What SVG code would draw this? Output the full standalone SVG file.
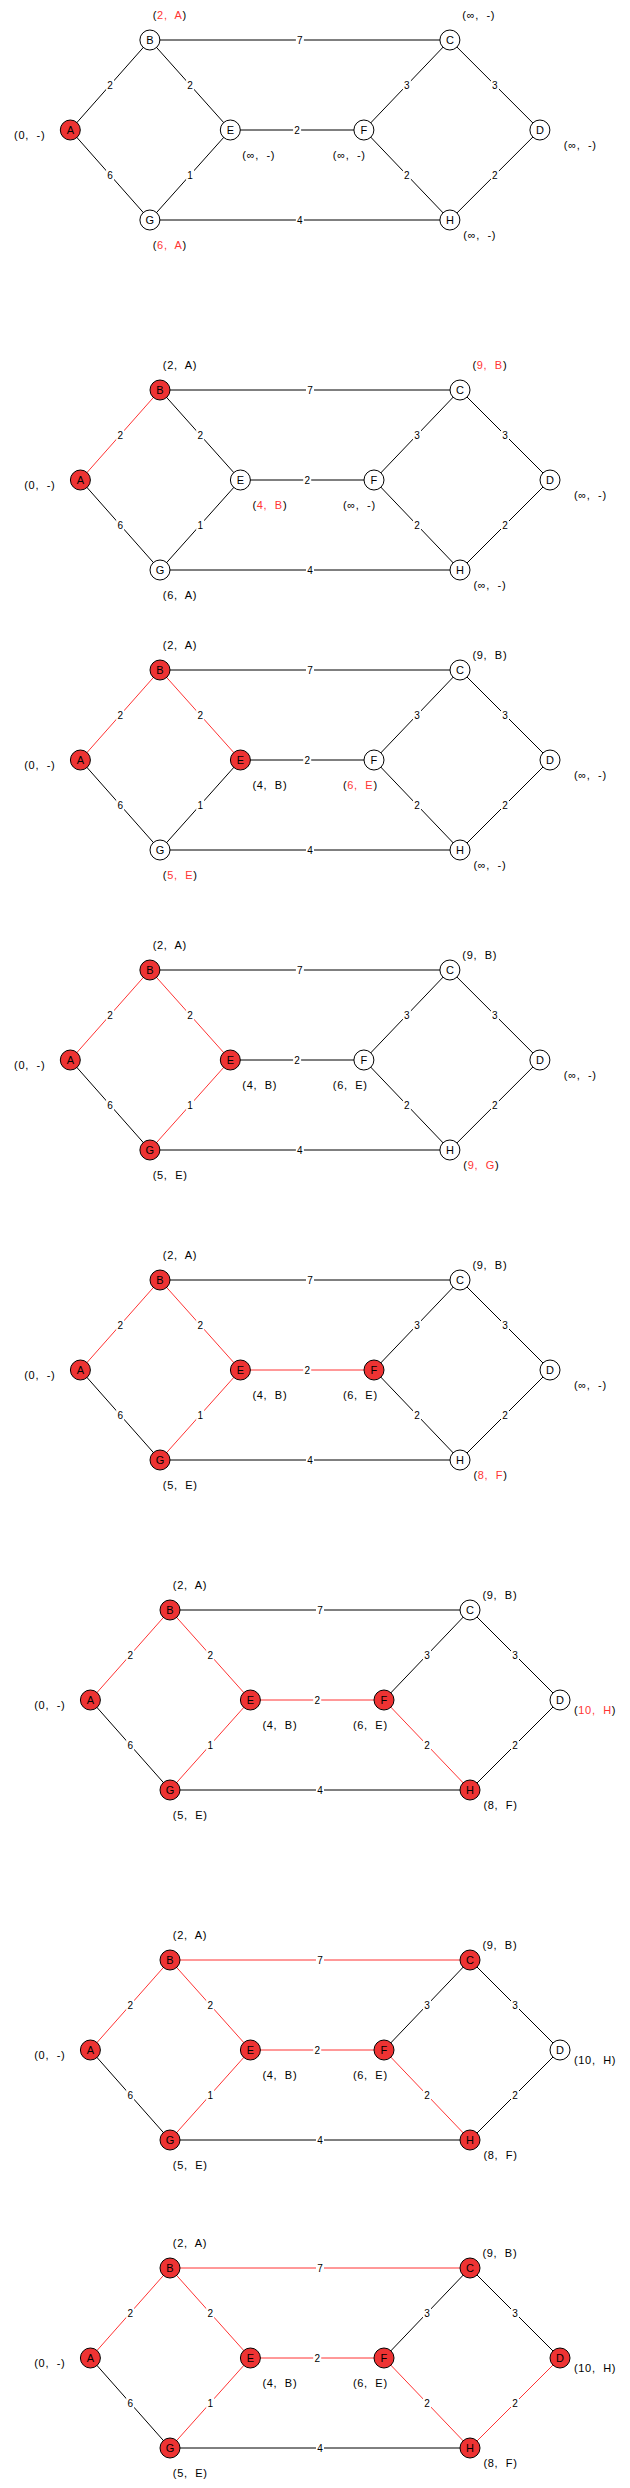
<svg xmlns="http://www.w3.org/2000/svg" width="630" height="2488" viewBox="0 0 630 2488">
<style>
.e{stroke:#000;stroke-width:1;fill:none}
.er{stroke:#ff3333;stroke-width:1;fill:none}
.n{fill:#fff;stroke:#000;stroke-width:1}
.nr{fill:#ee3333;stroke:#000;stroke-width:1}
.t{font-family:"Liberation Sans",Arial,sans-serif;font-size:11px;text-anchor:middle;fill:#000}
.l{font-family:"Liberation Sans",Arial,sans-serif;font-size:11px;letter-spacing:0.7px;white-space:pre;fill:#000}
.r{fill:#ff3333}
.w{font-family:"Liberation Sans",Arial,sans-serif;font-size:10px;text-anchor:middle;fill:#000}
.bg{fill:#fff}
</style>
<rect width="630" height="2488" fill="#fff"/>

<!-- Panel 1 -->
<g id="panel1" transform="translate(70.3,130)">
<g id="p1-edges">
<line class="e" x1="0" y1="0" x2="79.6" y2="-90"/>
<line class="e" x1="0" y1="0" x2="79.6" y2="90"/>
<line class="e" x1="79.6" y1="-90" x2="160" y2="0"/>
<line class="e" x1="79.6" y1="90" x2="160" y2="0"/>
<line class="e" x1="79.6" y1="-90" x2="379.6" y2="-90"/>
<line class="e" x1="79.6" y1="90" x2="379.6" y2="90"/>
<line class="e" x1="160" y1="0" x2="293.6" y2="0"/>
<line class="e" x1="293.6" y1="0" x2="379.6" y2="-90"/>
<line class="e" x1="293.6" y1="0" x2="379.6" y2="90"/>
<line class="e" x1="379.6" y1="-90" x2="469.6" y2="0"/>
<line class="e" x1="379.6" y1="90" x2="469.6" y2="0"/>
<rect class="bg" x="35.8" y="-50" width="8" height="10"/><text class="w" x="39.8" y="-41.5">2</text>
<rect class="bg" x="35.8" y="40" width="8" height="10"/><text class="w" x="39.8" y="48.5">6</text>
<rect class="bg" x="115.8" y="-50" width="8" height="10"/><text class="w" x="119.8" y="-41.5">2</text>
<rect class="bg" x="115.8" y="40" width="8" height="10"/><text class="w" x="119.8" y="48.5">1</text>
<rect class="bg" x="225.6" y="-95" width="8" height="10"/><text class="w" x="229.6" y="-86.5">7</text>
<rect class="bg" x="225.6" y="85" width="8" height="10"/><text class="w" x="229.6" y="93.5">4</text>
<rect class="bg" x="222.8" y="-5" width="8" height="10"/><text class="w" x="226.8" y="3.5">2</text>
<rect class="bg" x="332.6" y="-50" width="8" height="10"/><text class="w" x="336.6" y="-41.5">3</text>
<rect class="bg" x="332.6" y="40" width="8" height="10"/><text class="w" x="336.6" y="48.5">2</text>
<rect class="bg" x="420.6" y="-50" width="8" height="10"/><text class="w" x="424.6" y="-41.5">3</text>
<rect class="bg" x="420.6" y="40" width="8" height="10"/><text class="w" x="424.6" y="48.5">2</text>
</g>
<g id="p1-A"><circle class="nr" cx="0" cy="0" r="10"/><text class="t" x="0" y="4">A</text><text class="l" x="-56.2" y="9">(0,  -)</text></g>
<g id="p1-B"><circle class="n" cx="79.6" cy="-90" r="10"/><text class="t" x="79.6" y="-86">B</text><text class="l" x="82.4" y="-111">(<tspan class="r">2,  A</tspan>)</text></g>
<g id="p1-G"><circle class="n" cx="79.6" cy="90" r="10"/><text class="t" x="79.6" y="94">G</text><text class="l" x="82.4" y="119">(<tspan class="r">6,  A</tspan>)</text></g>
<g id="p1-E"><circle class="n" cx="160" cy="0" r="10"/><text class="t" x="160" y="4">E</text><text class="l" x="172" y="29">(∞,  -)</text></g>
<g id="p1-F"><circle class="n" cx="293.6" cy="0" r="10"/><text class="t" x="293.6" y="4">F</text><text class="l" x="262.5" y="29">(∞,  -)</text></g>
<g id="p1-C"><circle class="n" cx="379.6" cy="-90" r="10"/><text class="t" x="379.6" y="-86">C</text><text class="l" x="392" y="-111">(∞,  -)</text></g>
<g id="p1-H"><circle class="n" cx="379.6" cy="90" r="10"/><text class="t" x="379.6" y="94">H</text><text class="l" x="393" y="109">(∞,  -)</text></g>
<g id="p1-D"><circle class="n" cx="469.6" cy="0" r="10"/><text class="t" x="469.6" y="4">D</text><text class="l" x="493.5" y="19">(∞,  -)</text></g>
</g>

<!-- Panel 2 -->
<g id="panel2" transform="translate(80.4,480)">
<g id="p2-edges">
<line class="er" x1="0" y1="0" x2="79.6" y2="-90"/>
<line class="e" x1="0" y1="0" x2="79.6" y2="90"/>
<line class="e" x1="79.6" y1="-90" x2="160" y2="0"/>
<line class="e" x1="79.6" y1="90" x2="160" y2="0"/>
<line class="e" x1="79.6" y1="-90" x2="379.6" y2="-90"/>
<line class="e" x1="79.6" y1="90" x2="379.6" y2="90"/>
<line class="e" x1="160" y1="0" x2="293.6" y2="0"/>
<line class="e" x1="293.6" y1="0" x2="379.6" y2="-90"/>
<line class="e" x1="293.6" y1="0" x2="379.6" y2="90"/>
<line class="e" x1="379.6" y1="-90" x2="469.6" y2="0"/>
<line class="e" x1="379.6" y1="90" x2="469.6" y2="0"/>
<rect class="bg" x="35.8" y="-50" width="8" height="10"/><text class="w" x="39.8" y="-41.5">2</text>
<rect class="bg" x="35.8" y="40" width="8" height="10"/><text class="w" x="39.8" y="48.5">6</text>
<rect class="bg" x="115.8" y="-50" width="8" height="10"/><text class="w" x="119.8" y="-41.5">2</text>
<rect class="bg" x="115.8" y="40" width="8" height="10"/><text class="w" x="119.8" y="48.5">1</text>
<rect class="bg" x="225.6" y="-95" width="8" height="10"/><text class="w" x="229.6" y="-86.5">7</text>
<rect class="bg" x="225.6" y="85" width="8" height="10"/><text class="w" x="229.6" y="93.5">4</text>
<rect class="bg" x="222.8" y="-5" width="8" height="10"/><text class="w" x="226.8" y="3.5">2</text>
<rect class="bg" x="332.6" y="-50" width="8" height="10"/><text class="w" x="336.6" y="-41.5">3</text>
<rect class="bg" x="332.6" y="40" width="8" height="10"/><text class="w" x="336.6" y="48.5">2</text>
<rect class="bg" x="420.6" y="-50" width="8" height="10"/><text class="w" x="424.6" y="-41.5">3</text>
<rect class="bg" x="420.6" y="40" width="8" height="10"/><text class="w" x="424.6" y="48.5">2</text>
</g>
<g id="p2-A"><circle class="nr" cx="0" cy="0" r="10"/><text class="t" x="0" y="4">A</text><text class="l" x="-56.2" y="9">(0,  -)</text></g>
<g id="p2-B"><circle class="nr" cx="79.6" cy="-90" r="10"/><text class="t" x="79.6" y="-86">B</text><text class="l" x="82.4" y="-111">(2,  A)</text></g>
<g id="p2-G"><circle class="n" cx="79.6" cy="90" r="10"/><text class="t" x="79.6" y="94">G</text><text class="l" x="82.4" y="119">(6,  A)</text></g>
<g id="p2-E"><circle class="n" cx="160" cy="0" r="10"/><text class="t" x="160" y="4">E</text><text class="l" x="172" y="29">(<tspan class="r">4,  B</tspan>)</text></g>
<g id="p2-F"><circle class="n" cx="293.6" cy="0" r="10"/><text class="t" x="293.6" y="4">F</text><text class="l" x="262.5" y="29">(∞,  -)</text></g>
<g id="p2-C"><circle class="n" cx="379.6" cy="-90" r="10"/><text class="t" x="379.6" y="-86">C</text><text class="l" x="392" y="-111">(<tspan class="r">9,  B</tspan>)</text></g>
<g id="p2-H"><circle class="n" cx="379.6" cy="90" r="10"/><text class="t" x="379.6" y="94">H</text><text class="l" x="393" y="109">(∞,  -)</text></g>
<g id="p2-D"><circle class="n" cx="469.6" cy="0" r="10"/><text class="t" x="469.6" y="4">D</text><text class="l" x="493.5" y="19">(∞,  -)</text></g>
</g>

<!-- Panel 3 -->
<g id="panel3" transform="translate(80.4,760)">
<g id="p3-edges">
<line class="er" x1="0" y1="0" x2="79.6" y2="-90"/>
<line class="e" x1="0" y1="0" x2="79.6" y2="90"/>
<line class="er" x1="79.6" y1="-90" x2="160" y2="0"/>
<line class="e" x1="79.6" y1="90" x2="160" y2="0"/>
<line class="e" x1="79.6" y1="-90" x2="379.6" y2="-90"/>
<line class="e" x1="79.6" y1="90" x2="379.6" y2="90"/>
<line class="e" x1="160" y1="0" x2="293.6" y2="0"/>
<line class="e" x1="293.6" y1="0" x2="379.6" y2="-90"/>
<line class="e" x1="293.6" y1="0" x2="379.6" y2="90"/>
<line class="e" x1="379.6" y1="-90" x2="469.6" y2="0"/>
<line class="e" x1="379.6" y1="90" x2="469.6" y2="0"/>
<rect class="bg" x="35.8" y="-50" width="8" height="10"/><text class="w" x="39.8" y="-41.5">2</text>
<rect class="bg" x="35.8" y="40" width="8" height="10"/><text class="w" x="39.8" y="48.5">6</text>
<rect class="bg" x="115.8" y="-50" width="8" height="10"/><text class="w" x="119.8" y="-41.5">2</text>
<rect class="bg" x="115.8" y="40" width="8" height="10"/><text class="w" x="119.8" y="48.5">1</text>
<rect class="bg" x="225.6" y="-95" width="8" height="10"/><text class="w" x="229.6" y="-86.5">7</text>
<rect class="bg" x="225.6" y="85" width="8" height="10"/><text class="w" x="229.6" y="93.5">4</text>
<rect class="bg" x="222.8" y="-5" width="8" height="10"/><text class="w" x="226.8" y="3.5">2</text>
<rect class="bg" x="332.6" y="-50" width="8" height="10"/><text class="w" x="336.6" y="-41.5">3</text>
<rect class="bg" x="332.6" y="40" width="8" height="10"/><text class="w" x="336.6" y="48.5">2</text>
<rect class="bg" x="420.6" y="-50" width="8" height="10"/><text class="w" x="424.6" y="-41.5">3</text>
<rect class="bg" x="420.6" y="40" width="8" height="10"/><text class="w" x="424.6" y="48.5">2</text>
</g>
<g id="p3-A"><circle class="nr" cx="0" cy="0" r="10"/><text class="t" x="0" y="4">A</text><text class="l" x="-56.2" y="9">(0,  -)</text></g>
<g id="p3-B"><circle class="nr" cx="79.6" cy="-90" r="10"/><text class="t" x="79.6" y="-86">B</text><text class="l" x="82.4" y="-111">(2,  A)</text></g>
<g id="p3-G"><circle class="n" cx="79.6" cy="90" r="10"/><text class="t" x="79.6" y="94">G</text><text class="l" x="82.4" y="119">(<tspan class="r">5,  E</tspan>)</text></g>
<g id="p3-E"><circle class="nr" cx="160" cy="0" r="10"/><text class="t" x="160" y="4">E</text><text class="l" x="172" y="29">(4,  B)</text></g>
<g id="p3-F"><circle class="n" cx="293.6" cy="0" r="10"/><text class="t" x="293.6" y="4">F</text><text class="l" x="262.5" y="29">(<tspan class="r">6,  E</tspan>)</text></g>
<g id="p3-C"><circle class="n" cx="379.6" cy="-90" r="10"/><text class="t" x="379.6" y="-86">C</text><text class="l" x="392" y="-101.5">(9,  B)</text></g>
<g id="p3-H"><circle class="n" cx="379.6" cy="90" r="10"/><text class="t" x="379.6" y="94">H</text><text class="l" x="393" y="109">(∞,  -)</text></g>
<g id="p3-D"><circle class="n" cx="469.6" cy="0" r="10"/><text class="t" x="469.6" y="4">D</text><text class="l" x="493.5" y="19">(∞,  -)</text></g>
</g>

<!-- Panel 4 -->
<g id="panel4" transform="translate(70.3,1060)">
<g id="p4-edges">
<line class="er" x1="0" y1="0" x2="79.6" y2="-90"/>
<line class="e" x1="0" y1="0" x2="79.6" y2="90"/>
<line class="er" x1="79.6" y1="-90" x2="160" y2="0"/>
<line class="er" x1="79.6" y1="90" x2="160" y2="0"/>
<line class="e" x1="79.6" y1="-90" x2="379.6" y2="-90"/>
<line class="e" x1="79.6" y1="90" x2="379.6" y2="90"/>
<line class="e" x1="160" y1="0" x2="293.6" y2="0"/>
<line class="e" x1="293.6" y1="0" x2="379.6" y2="-90"/>
<line class="e" x1="293.6" y1="0" x2="379.6" y2="90"/>
<line class="e" x1="379.6" y1="-90" x2="469.6" y2="0"/>
<line class="e" x1="379.6" y1="90" x2="469.6" y2="0"/>
<rect class="bg" x="35.8" y="-50" width="8" height="10"/><text class="w" x="39.8" y="-41.5">2</text>
<rect class="bg" x="35.8" y="40" width="8" height="10"/><text class="w" x="39.8" y="48.5">6</text>
<rect class="bg" x="115.8" y="-50" width="8" height="10"/><text class="w" x="119.8" y="-41.5">2</text>
<rect class="bg" x="115.8" y="40" width="8" height="10"/><text class="w" x="119.8" y="48.5">1</text>
<rect class="bg" x="225.6" y="-95" width="8" height="10"/><text class="w" x="229.6" y="-86.5">7</text>
<rect class="bg" x="225.6" y="85" width="8" height="10"/><text class="w" x="229.6" y="93.5">4</text>
<rect class="bg" x="222.8" y="-5" width="8" height="10"/><text class="w" x="226.8" y="3.5">2</text>
<rect class="bg" x="332.6" y="-50" width="8" height="10"/><text class="w" x="336.6" y="-41.5">3</text>
<rect class="bg" x="332.6" y="40" width="8" height="10"/><text class="w" x="336.6" y="48.5">2</text>
<rect class="bg" x="420.6" y="-50" width="8" height="10"/><text class="w" x="424.6" y="-41.5">3</text>
<rect class="bg" x="420.6" y="40" width="8" height="10"/><text class="w" x="424.6" y="48.5">2</text>
</g>
<g id="p4-A"><circle class="nr" cx="0" cy="0" r="10"/><text class="t" x="0" y="4">A</text><text class="l" x="-56.2" y="9">(0,  -)</text></g>
<g id="p4-B"><circle class="nr" cx="79.6" cy="-90" r="10"/><text class="t" x="79.6" y="-86">B</text><text class="l" x="82.4" y="-111">(2,  A)</text></g>
<g id="p4-G"><circle class="nr" cx="79.6" cy="90" r="10"/><text class="t" x="79.6" y="94">G</text><text class="l" x="82.4" y="119">(5,  E)</text></g>
<g id="p4-E"><circle class="nr" cx="160" cy="0" r="10"/><text class="t" x="160" y="4">E</text><text class="l" x="172" y="29">(4,  B)</text></g>
<g id="p4-F"><circle class="n" cx="293.6" cy="0" r="10"/><text class="t" x="293.6" y="4">F</text><text class="l" x="262.5" y="29">(6,  E)</text></g>
<g id="p4-C"><circle class="n" cx="379.6" cy="-90" r="10"/><text class="t" x="379.6" y="-86">C</text><text class="l" x="392" y="-101.5">(9,  B)</text></g>
<g id="p4-H"><circle class="n" cx="379.6" cy="90" r="10"/><text class="t" x="379.6" y="94">H</text><text class="l" x="393" y="109">(<tspan class="r">9,  G</tspan>)</text></g>
<g id="p4-D"><circle class="n" cx="469.6" cy="0" r="10"/><text class="t" x="469.6" y="4">D</text><text class="l" x="493.5" y="19">(∞,  -)</text></g>
</g>

<!-- Panel 5 -->
<g id="panel5" transform="translate(80.4,1370)">
<g id="p5-edges">
<line class="er" x1="0" y1="0" x2="79.6" y2="-90"/>
<line class="e" x1="0" y1="0" x2="79.6" y2="90"/>
<line class="er" x1="79.6" y1="-90" x2="160" y2="0"/>
<line class="er" x1="79.6" y1="90" x2="160" y2="0"/>
<line class="e" x1="79.6" y1="-90" x2="379.6" y2="-90"/>
<line class="e" x1="79.6" y1="90" x2="379.6" y2="90"/>
<line class="er" x1="160" y1="0" x2="293.6" y2="0"/>
<line class="e" x1="293.6" y1="0" x2="379.6" y2="-90"/>
<line class="e" x1="293.6" y1="0" x2="379.6" y2="90"/>
<line class="e" x1="379.6" y1="-90" x2="469.6" y2="0"/>
<line class="e" x1="379.6" y1="90" x2="469.6" y2="0"/>
<rect class="bg" x="35.8" y="-50" width="8" height="10"/><text class="w" x="39.8" y="-41.5">2</text>
<rect class="bg" x="35.8" y="40" width="8" height="10"/><text class="w" x="39.8" y="48.5">6</text>
<rect class="bg" x="115.8" y="-50" width="8" height="10"/><text class="w" x="119.8" y="-41.5">2</text>
<rect class="bg" x="115.8" y="40" width="8" height="10"/><text class="w" x="119.8" y="48.5">1</text>
<rect class="bg" x="225.6" y="-95" width="8" height="10"/><text class="w" x="229.6" y="-86.5">7</text>
<rect class="bg" x="225.6" y="85" width="8" height="10"/><text class="w" x="229.6" y="93.5">4</text>
<rect class="bg" x="222.8" y="-5" width="8" height="10"/><text class="w" x="226.8" y="3.5">2</text>
<rect class="bg" x="332.6" y="-50" width="8" height="10"/><text class="w" x="336.6" y="-41.5">3</text>
<rect class="bg" x="332.6" y="40" width="8" height="10"/><text class="w" x="336.6" y="48.5">2</text>
<rect class="bg" x="420.6" y="-50" width="8" height="10"/><text class="w" x="424.6" y="-41.5">3</text>
<rect class="bg" x="420.6" y="40" width="8" height="10"/><text class="w" x="424.6" y="48.5">2</text>
</g>
<g id="p5-A"><circle class="nr" cx="0" cy="0" r="10"/><text class="t" x="0" y="4">A</text><text class="l" x="-56.2" y="9">(0,  -)</text></g>
<g id="p5-B"><circle class="nr" cx="79.6" cy="-90" r="10"/><text class="t" x="79.6" y="-86">B</text><text class="l" x="82.4" y="-111">(2,  A)</text></g>
<g id="p5-G"><circle class="nr" cx="79.6" cy="90" r="10"/><text class="t" x="79.6" y="94">G</text><text class="l" x="82.4" y="119">(5,  E)</text></g>
<g id="p5-E"><circle class="nr" cx="160" cy="0" r="10"/><text class="t" x="160" y="4">E</text><text class="l" x="172" y="29">(4,  B)</text></g>
<g id="p5-F"><circle class="nr" cx="293.6" cy="0" r="10"/><text class="t" x="293.6" y="4">F</text><text class="l" x="262.5" y="29">(6,  E)</text></g>
<g id="p5-C"><circle class="n" cx="379.6" cy="-90" r="10"/><text class="t" x="379.6" y="-86">C</text><text class="l" x="392" y="-101.5">(9,  B)</text></g>
<g id="p5-H"><circle class="n" cx="379.6" cy="90" r="10"/><text class="t" x="379.6" y="94">H</text><text class="l" x="393" y="109">(<tspan class="r">8,  F</tspan>)</text></g>
<g id="p5-D"><circle class="n" cx="469.6" cy="0" r="10"/><text class="t" x="469.6" y="4">D</text><text class="l" x="493.5" y="19">(∞,  -)</text></g>
</g>

<!-- Panel 6 -->
<g id="panel6" transform="translate(90.4,1700)">
<g id="p6-edges">
<line class="er" x1="0" y1="0" x2="79.6" y2="-90"/>
<line class="e" x1="0" y1="0" x2="79.6" y2="90"/>
<line class="er" x1="79.6" y1="-90" x2="160" y2="0"/>
<line class="er" x1="79.6" y1="90" x2="160" y2="0"/>
<line class="e" x1="79.6" y1="-90" x2="379.6" y2="-90"/>
<line class="e" x1="79.6" y1="90" x2="379.6" y2="90"/>
<line class="er" x1="160" y1="0" x2="293.6" y2="0"/>
<line class="e" x1="293.6" y1="0" x2="379.6" y2="-90"/>
<line class="er" x1="293.6" y1="0" x2="379.6" y2="90"/>
<line class="e" x1="379.6" y1="-90" x2="469.6" y2="0"/>
<line class="e" x1="379.6" y1="90" x2="469.6" y2="0"/>
<rect class="bg" x="35.8" y="-50" width="8" height="10"/><text class="w" x="39.8" y="-41.5">2</text>
<rect class="bg" x="35.8" y="40" width="8" height="10"/><text class="w" x="39.8" y="48.5">6</text>
<rect class="bg" x="115.8" y="-50" width="8" height="10"/><text class="w" x="119.8" y="-41.5">2</text>
<rect class="bg" x="115.8" y="40" width="8" height="10"/><text class="w" x="119.8" y="48.5">1</text>
<rect class="bg" x="225.6" y="-95" width="8" height="10"/><text class="w" x="229.6" y="-86.5">7</text>
<rect class="bg" x="225.6" y="85" width="8" height="10"/><text class="w" x="229.6" y="93.5">4</text>
<rect class="bg" x="222.8" y="-5" width="8" height="10"/><text class="w" x="226.8" y="3.5">2</text>
<rect class="bg" x="332.6" y="-50" width="8" height="10"/><text class="w" x="336.6" y="-41.5">3</text>
<rect class="bg" x="332.6" y="40" width="8" height="10"/><text class="w" x="336.6" y="48.5">2</text>
<rect class="bg" x="420.6" y="-50" width="8" height="10"/><text class="w" x="424.6" y="-41.5">3</text>
<rect class="bg" x="420.6" y="40" width="8" height="10"/><text class="w" x="424.6" y="48.5">2</text>
</g>
<g id="p6-A"><circle class="nr" cx="0" cy="0" r="10"/><text class="t" x="0" y="4">A</text><text class="l" x="-56.2" y="9">(0,  -)</text></g>
<g id="p6-B"><circle class="nr" cx="79.6" cy="-90" r="10"/><text class="t" x="79.6" y="-86">B</text><text class="l" x="82.4" y="-111">(2,  A)</text></g>
<g id="p6-G"><circle class="nr" cx="79.6" cy="90" r="10"/><text class="t" x="79.6" y="94">G</text><text class="l" x="82.4" y="119">(5,  E)</text></g>
<g id="p6-E"><circle class="nr" cx="160" cy="0" r="10"/><text class="t" x="160" y="4">E</text><text class="l" x="172" y="29">(4,  B)</text></g>
<g id="p6-F"><circle class="nr" cx="293.6" cy="0" r="10"/><text class="t" x="293.6" y="4">F</text><text class="l" x="262.5" y="29">(6,  E)</text></g>
<g id="p6-C"><circle class="n" cx="379.6" cy="-90" r="10"/><text class="t" x="379.6" y="-86">C</text><text class="l" x="392" y="-101.5">(9,  B)</text></g>
<g id="p6-H"><circle class="nr" cx="379.6" cy="90" r="10"/><text class="t" x="379.6" y="94">H</text><text class="l" x="393" y="109">(8,  F)</text></g>
<g id="p6-D"><circle class="n" cx="469.6" cy="0" r="10"/><text class="t" x="469.6" y="4">D</text><text class="l" x="483.5" y="14">(<tspan class="r">10,  H</tspan>)</text></g>
</g>

<!-- Panel 7 -->
<g id="panel7" transform="translate(90.4,2050)">
<g id="p7-edges">
<line class="er" x1="0" y1="0" x2="79.6" y2="-90"/>
<line class="e" x1="0" y1="0" x2="79.6" y2="90"/>
<line class="er" x1="79.6" y1="-90" x2="160" y2="0"/>
<line class="er" x1="79.6" y1="90" x2="160" y2="0"/>
<line class="er" x1="79.6" y1="-90" x2="379.6" y2="-90"/>
<line class="e" x1="79.6" y1="90" x2="379.6" y2="90"/>
<line class="er" x1="160" y1="0" x2="293.6" y2="0"/>
<line class="e" x1="293.6" y1="0" x2="379.6" y2="-90"/>
<line class="er" x1="293.6" y1="0" x2="379.6" y2="90"/>
<line class="e" x1="379.6" y1="-90" x2="469.6" y2="0"/>
<line class="e" x1="379.6" y1="90" x2="469.6" y2="0"/>
<rect class="bg" x="35.8" y="-50" width="8" height="10"/><text class="w" x="39.8" y="-41.5">2</text>
<rect class="bg" x="35.8" y="40" width="8" height="10"/><text class="w" x="39.8" y="48.5">6</text>
<rect class="bg" x="115.8" y="-50" width="8" height="10"/><text class="w" x="119.8" y="-41.5">2</text>
<rect class="bg" x="115.8" y="40" width="8" height="10"/><text class="w" x="119.8" y="48.5">1</text>
<rect class="bg" x="225.6" y="-95" width="8" height="10"/><text class="w" x="229.6" y="-86.5">7</text>
<rect class="bg" x="225.6" y="85" width="8" height="10"/><text class="w" x="229.6" y="93.5">4</text>
<rect class="bg" x="222.8" y="-5" width="8" height="10"/><text class="w" x="226.8" y="3.5">2</text>
<rect class="bg" x="332.6" y="-50" width="8" height="10"/><text class="w" x="336.6" y="-41.5">3</text>
<rect class="bg" x="332.6" y="40" width="8" height="10"/><text class="w" x="336.6" y="48.5">2</text>
<rect class="bg" x="420.6" y="-50" width="8" height="10"/><text class="w" x="424.6" y="-41.5">3</text>
<rect class="bg" x="420.6" y="40" width="8" height="10"/><text class="w" x="424.6" y="48.5">2</text>
</g>
<g id="p7-A"><circle class="nr" cx="0" cy="0" r="10"/><text class="t" x="0" y="4">A</text><text class="l" x="-56.2" y="9">(0,  -)</text></g>
<g id="p7-B"><circle class="nr" cx="79.6" cy="-90" r="10"/><text class="t" x="79.6" y="-86">B</text><text class="l" x="82.4" y="-111">(2,  A)</text></g>
<g id="p7-G"><circle class="nr" cx="79.6" cy="90" r="10"/><text class="t" x="79.6" y="94">G</text><text class="l" x="82.4" y="119">(5,  E)</text></g>
<g id="p7-E"><circle class="nr" cx="160" cy="0" r="10"/><text class="t" x="160" y="4">E</text><text class="l" x="172" y="29">(4,  B)</text></g>
<g id="p7-F"><circle class="nr" cx="293.6" cy="0" r="10"/><text class="t" x="293.6" y="4">F</text><text class="l" x="262.5" y="29">(6,  E)</text></g>
<g id="p7-C"><circle class="nr" cx="379.6" cy="-90" r="10"/><text class="t" x="379.6" y="-86">C</text><text class="l" x="392" y="-101.5">(9,  B)</text></g>
<g id="p7-H"><circle class="nr" cx="379.6" cy="90" r="10"/><text class="t" x="379.6" y="94">H</text><text class="l" x="393" y="109">(8,  F)</text></g>
<g id="p7-D"><circle class="n" cx="469.6" cy="0" r="10"/><text class="t" x="469.6" y="4">D</text><text class="l" x="483.5" y="14">(10,  H)</text></g>
</g>

<!-- Panel 8 -->
<g id="panel8" transform="translate(90.4,2358)">
<g id="p8-edges">
<line class="er" x1="0" y1="0" x2="79.6" y2="-90"/>
<line class="e" x1="0" y1="0" x2="79.6" y2="90"/>
<line class="er" x1="79.6" y1="-90" x2="160" y2="0"/>
<line class="er" x1="79.6" y1="90" x2="160" y2="0"/>
<line class="er" x1="79.6" y1="-90" x2="379.6" y2="-90"/>
<line class="e" x1="79.6" y1="90" x2="379.6" y2="90"/>
<line class="er" x1="160" y1="0" x2="293.6" y2="0"/>
<line class="e" x1="293.6" y1="0" x2="379.6" y2="-90"/>
<line class="er" x1="293.6" y1="0" x2="379.6" y2="90"/>
<line class="e" x1="379.6" y1="-90" x2="469.6" y2="0"/>
<line class="er" x1="379.6" y1="90" x2="469.6" y2="0"/>
<rect class="bg" x="35.8" y="-50" width="8" height="10"/><text class="w" x="39.8" y="-41.5">2</text>
<rect class="bg" x="35.8" y="40" width="8" height="10"/><text class="w" x="39.8" y="48.5">6</text>
<rect class="bg" x="115.8" y="-50" width="8" height="10"/><text class="w" x="119.8" y="-41.5">2</text>
<rect class="bg" x="115.8" y="40" width="8" height="10"/><text class="w" x="119.8" y="48.5">1</text>
<rect class="bg" x="225.6" y="-95" width="8" height="10"/><text class="w" x="229.6" y="-86.5">7</text>
<rect class="bg" x="225.6" y="85" width="8" height="10"/><text class="w" x="229.6" y="93.5">4</text>
<rect class="bg" x="222.8" y="-5" width="8" height="10"/><text class="w" x="226.8" y="3.5">2</text>
<rect class="bg" x="332.6" y="-50" width="8" height="10"/><text class="w" x="336.6" y="-41.5">3</text>
<rect class="bg" x="332.6" y="40" width="8" height="10"/><text class="w" x="336.6" y="48.5">2</text>
<rect class="bg" x="420.6" y="-50" width="8" height="10"/><text class="w" x="424.6" y="-41.5">3</text>
<rect class="bg" x="420.6" y="40" width="8" height="10"/><text class="w" x="424.6" y="48.5">2</text>
</g>
<g id="p8-A"><circle class="nr" cx="0" cy="0" r="10"/><text class="t" x="0" y="4">A</text><text class="l" x="-56.2" y="9">(0,  -)</text></g>
<g id="p8-B"><circle class="nr" cx="79.6" cy="-90" r="10"/><text class="t" x="79.6" y="-86">B</text><text class="l" x="82.4" y="-111">(2,  A)</text></g>
<g id="p8-G"><circle class="nr" cx="79.6" cy="90" r="10"/><text class="t" x="79.6" y="94">G</text><text class="l" x="82.4" y="119">(5,  E)</text></g>
<g id="p8-E"><circle class="nr" cx="160" cy="0" r="10"/><text class="t" x="160" y="4">E</text><text class="l" x="172" y="29">(4,  B)</text></g>
<g id="p8-F"><circle class="nr" cx="293.6" cy="0" r="10"/><text class="t" x="293.6" y="4">F</text><text class="l" x="262.5" y="29">(6,  E)</text></g>
<g id="p8-C"><circle class="nr" cx="379.6" cy="-90" r="10"/><text class="t" x="379.6" y="-86">C</text><text class="l" x="392" y="-101.5">(9,  B)</text></g>
<g id="p8-H"><circle class="nr" cx="379.6" cy="90" r="10"/><text class="t" x="379.6" y="94">H</text><text class="l" x="393" y="109">(8,  F)</text></g>
<g id="p8-D"><circle class="nr" cx="469.6" cy="0" r="10"/><text class="t" x="469.6" y="4">D</text><text class="l" x="483.5" y="14">(10,  H)</text></g>
</g>
</svg>
